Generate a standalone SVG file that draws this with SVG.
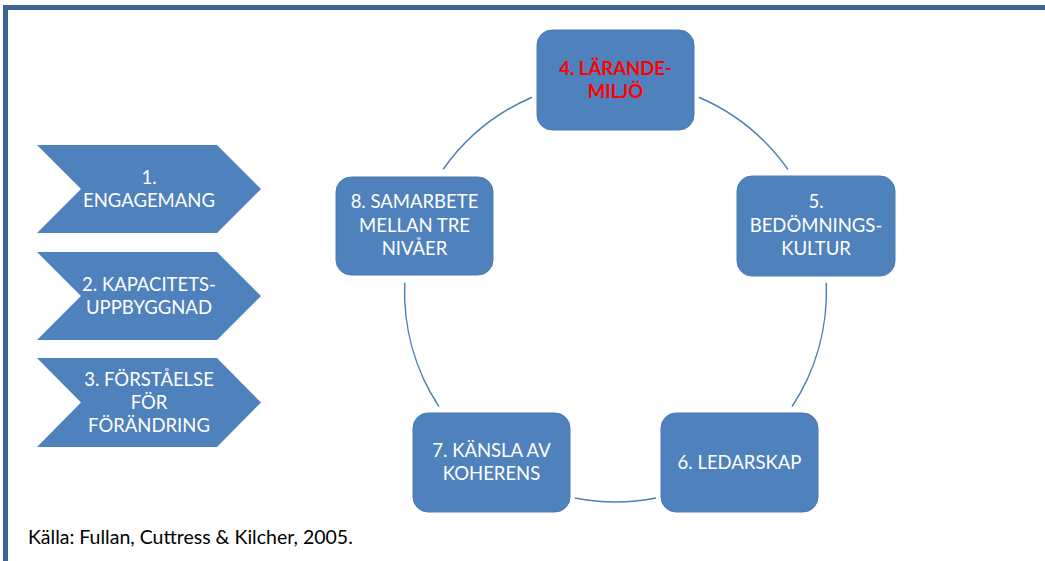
<svg xmlns="http://www.w3.org/2000/svg" width="1045" height="561" viewBox="0 0 1045 561">
<style>
.box{fill:#4F81BD;stroke:#4A7AB5;stroke-width:1}
.chev{fill:#4F81BD}
.t{font-family:Lato,"Liberation Sans",sans-serif;font-size:18.5px;fill:#FFFFFF;text-anchor:middle}
.red{font-weight:bold;fill:#FF0000}
.arc{fill:none;stroke:#4A7EBB;stroke-width:1.5}
.src{font-family:Lato,"Liberation Sans",sans-serif;font-size:19.5px;fill:#000000}
</style>
<rect x="0" y="0" width="1045" height="561" fill="#FFFFFF"/>
<g id="frame">
<rect x="3" y="5" width="1042" height="5" fill="#3D6494"/>
<rect x="3" y="5" width="5" height="556" fill="#3D6494"/>
</g>
<g id="connectors">
<path class="arc" d="M698.9,97.2 A211,211 0 0 1 787.9,169.4"/>
<path class="arc" d="M826.3,282.9 A211,211 0 0 1 792.0,406.7"/>
<path class="arc" d="M656.1,498.1 A211,211 0 0 1 574.9,498.1"/>
<path class="arc" d="M439.0,406.7 A211,211 0 0 1 404.7,282.9"/>
<path class="arc" d="M443.1,169.4 A211,211 0 0 1 532.1,97.2"/>
</g>
<g id="step1">
<polygon class="chev" points="37,145 217,145 261,189 217,233 37,233 81,189"/>
<text class="t" x="149" y="184">1.</text>
<text class="t" x="149" y="207">ENGAGEMANG</text>
</g>
<g id="step2">
<polygon class="chev" points="37,252 217,252 261,296 217,340 37,340 81,296"/>
<text class="t" x="149" y="291">2. KAPACITETS-</text>
<text class="t" x="149" y="314">UPPBYGGNAD</text>
</g>
<g id="step3">
<polygon class="chev" points="37,358 217,358 261,402.5 217,447 37,447 81,402.5"/>
<text class="t" x="149" y="385.5">3. FÖRSTÅELSE</text>
<text class="t" x="149" y="408.5">FÖR</text>
<text class="t" x="149" y="431.5">FÖRÄNDRING</text>
</g>
<g id="node4">
<rect class="box" x="537" y="30" width="157" height="100" rx="15"/>
<text class="t red" x="615.5" y="75">4. LÄRANDE-</text>
<text class="t red" x="615.5" y="98">MILJÖ</text>
</g>
<g id="node5">
<rect class="box" x="737" y="176" width="158" height="100" rx="15"/>
<text class="t" x="816" y="208">5.</text>
<text class="t" x="816" y="231.5">BEDÖMNINGS-</text>
<text class="t" x="816" y="255">KULTUR</text>
</g>
<g id="node6">
<rect class="box" x="661" y="413" width="157" height="99" rx="15"/>
<text class="t" x="739.5" y="468.5">6. LEDARSKAP</text>
</g>
<g id="node7">
<rect class="box" x="413" y="413" width="157" height="99" rx="15"/>
<text class="t" x="491.5" y="457">7. KÄNSLA AV</text>
<text class="t" x="491.5" y="480">KOHERENS</text>
</g>
<g id="node8">
<rect class="box" x="336" y="177" width="157" height="98" rx="15"/>
<text class="t" x="414.5" y="208">8. SAMARBETE</text>
<text class="t" x="414.5" y="231.5">MELLAN TRE</text>
<text class="t" x="414.5" y="255">NIVÅER</text>
</g>
<g id="source">
<text class="src" x="28" y="544">Källa: Fullan, Cuttress &amp; Kilcher, 2005.</text>
</g>
</svg>
